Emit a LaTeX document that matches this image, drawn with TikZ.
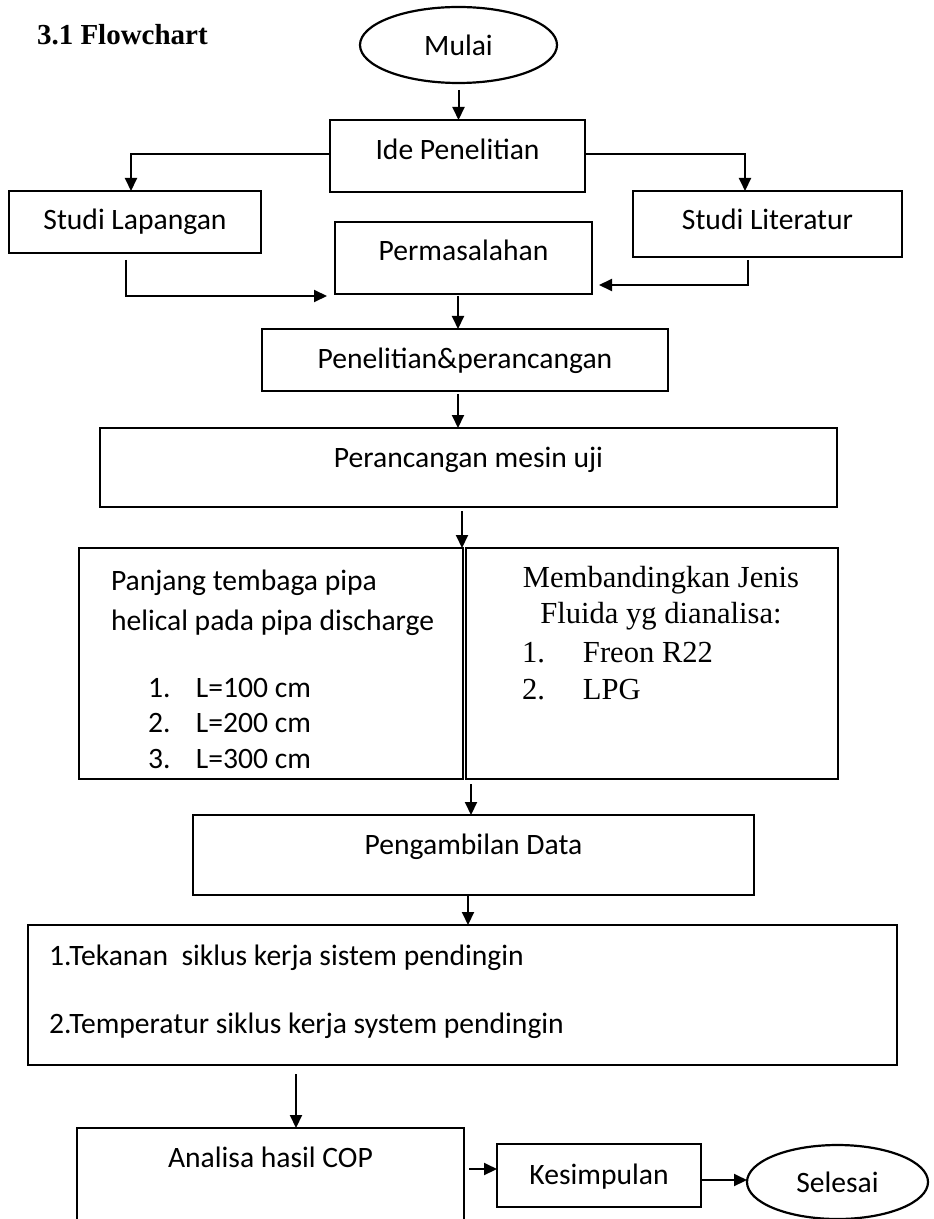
\documentclass[tikz,border=0pt]{standalone}
\usepackage{fontspec}
\setmainfont{Carlito}
\newfontfamily\timesf{Liberation Serif}
\usetikzlibrary{arrows.meta,calc,shapes.geometric}
\begin{document}
\begin{tikzpicture}[x=0.5pt,y=-0.5pt,
  every node/.style={inner sep=0pt, outer sep=0pt},
  box/.style={draw, line width=1.1pt, rectangle, anchor=north west, inner sep=0pt,
    font=\fontsize{14.8pt}{17pt}\selectfont},
  oval/.style={draw, line width=1.1pt, ellipse, inner sep=0pt,
    font=\fontsize{14.8pt}{17pt}\selectfont},
  arr/.style={line width=1pt, -{Triangle[length=6.5pt,width=6pt]}}]
\clip (0,0) rectangle (933,1219);
\useasboundingbox (0,0) rectangle (933,1219);

% title
\node[anchor=base west, font=\timesf\bfseries\fontsize{14.5pt}{17pt}\selectfont] (title) at (37,45) {3.1 Flowchart};

% nodes
\node[oval, minimum width=98.5pt, minimum height=38pt] (mulai) at (458.5,45) {Mulai};
\node[box, minimum width=127.5pt, text height=20pt, text depth=16pt] (ide) at (330,120) {Ide Penelitian};
\node[box, minimum width=126pt, text height=19.5pt, text depth=11.5pt] (lap) at (9,191) {Studi Lapangan};
\node[box, minimum width=134.5pt, text height=19.5pt, text depth=13.5pt] (lit) at (633,191) {Studi Literatur};
\node[box, minimum width=128.5pt, text height=19.5pt, text depth=16.5pt] (perm) at (335,222) {Permasalahan};
\node[box, minimum width=203pt, text height=19.5pt, text depth=11.5pt] (pen) at (262,329) {Penelitian\&perancangan};
\node[box, minimum width=368.5pt, text height=19.5pt, text depth=20pt] (mesin) at (100,428) {Perancangan mesin uji};
\node[box, text width=192pt, align=flush left, text height=21pt, text depth=94.5pt,
  font=\fontsize{14.8pt}{20pt}\selectfont] (pan) at (79,548)
  {\hspace*{16pt}Panjang tembaga pipa\\\hspace*{16pt}helical pada pipa discharge};
\node[anchor=base west, text width=100pt, align=flush left,
  font=\fontsize{14.8pt}{17.75pt}\selectfont] (panlist) at (148,697)
  {\makebox[24pt][l]{1.}L=100 cm\\\makebox[24pt][l]{2.}L=200 cm\\\makebox[24pt][l]{3.}L=300 cm};
\node[box, text width=186pt, align=flush center, text height=19.5pt, text depth=96pt,
  font=\timesf\fontsize{15.3pt}{18pt}\selectfont] (flu) at (466,548)
  {\hspace*{9pt}Membandingkan Jenis\\\hspace*{9pt}Fluida yg dianalisa:};
\node[anchor=base west, text width=100pt, align=flush left,
  font=\timesf\fontsize{15.3pt}{18.5pt}\selectfont] (flulist) at (522,662)
  {\makebox[30.5pt][l]{1.}Freon R22\\\makebox[30.5pt][l]{2.}LPG};
\node[box, minimum width=280.5pt, text height=19.5pt, text depth=20.5pt] (peng) at (193,815) {Pengambilan Data};
\node[box, text width=413.5pt, inner xsep=10.5pt, align=flush left, text height=20pt, text depth=50pt,
  font=\fontsize{14.8pt}{34pt}\selectfont] (big) at (28,925)
  {1.Tekanan\ \ siklus kerja sistem pendingin\\2.Temperatur siklus kerja system pendingin};
\node[box, minimum width=193.5pt, text height=19.5pt, text depth=41.5pt] (ana) at (77,1128) {Analisa hasil COP};
\node[box, minimum width=102pt, text height=20pt, text depth=11.5pt] (kes) at (497,1144) {Kesimpulan};
\node[oval, minimum width=90.5pt, minimum height=37pt] (sel) at (837.5,1182) {Selesai};

% connectors
\coordinate (a1) at ($(mulai.south)+(0,7)$);
\draw[arr] (a1) -- (a1 |- ide.north);
\draw[arr] ($(ide.west)+(0,-2)$) -| ($(lap.north)+(-4,0)$);
\draw[arr] ($(ide.east)+(0,-2)$) -| ($(lit.north)+(-22.5,0)$);
\draw[arr] ($(lap.south)+(-9,7)$) |- ($(perm.south west)+(-8,2)$);
\draw[arr] ($(lit.south)+(-19.5,3)$) |- ($(perm.south east)+(7,-9)$);
\coordinate (a2) at ($(perm.south)+(-5.5,2)$);
\draw[arr] (a2) -- (a2 |- pen.north);
\coordinate (a3) at ($(pen.south)+(-7,3)$);
\draw[arr] (a3) -- (a3 |- mesin.north);
\coordinate (a4) at ($(mesin.south)+(-6.5,4)$);
\draw[arr] (a4) -- (a4 |- pan.north);
\coordinate (a5) at ($(flu.south west)+(5,5)$);
\draw[arr] (a5) -- (a5 |- peng.north);
\coordinate (a6) at ($(peng.south)+(-5.5,0)$);
\draw[arr] (a6) -- (a6 |- big.north);
\coordinate (a7) at ($(big.south west)+(268,9)$);
\draw[arr] (a7) -- (a7 |- ana.north);
\coordinate (a8) at ($(ana.north east)+(5,41)$);
\draw[arr] (a8) -- (a8 -| kes.west);
\coordinate (a9) at ($(kes.east)+(1,4.5)$);
\draw[arr] (a9) -- (a9 -| sel.west);
\end{tikzpicture}
\end{document}
